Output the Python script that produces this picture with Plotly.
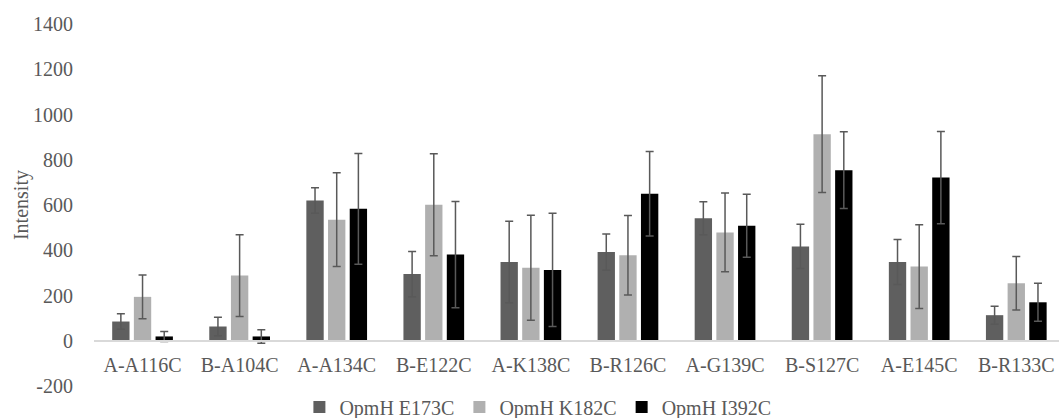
import plotly.graph_objects as go

categories = ["A-A116C", "B-A104C", "A-A134C", "B-E122C", "A-K138C",
              "B-R126C", "A-G139C", "B-S127C", "A-E145C", "B-R133C"]

series_names = ["OpmH E173C", "OpmH K182C", "OpmH I392C"]

e173c_values = [85, 63, 620, 295, 348, 392, 541, 417, 348, 113]
e173c_errors = [34, 41, 56, 100, 180, 80, 73, 98, 99, 40]

k182c_values = [194, 288, 535, 601, 323, 378, 479, 913, 328, 254]
k182c_errors = [97, 181, 207, 225, 232, 176, 174, 258, 185, 118]

i392c_values = [19, 19, 583, 381, 313, 650, 508, 754, 721, 170]
i392c_errors = [22, 30, 245, 235, 250, 187, 139, 170, 204, 84]

y_ticks = [-200, 0, 200, 400, 600, 800, 1000, 1200, 1400]
y_tick_labels = ["-200", "0", "200", "400", "600", "800", "1000", "1200", "1400"]
y_title = "Intensity"

colors = ["#5f5f5f", "#b0b0b0", "#000000"]
err_color = "#595959"
font_family = "Liberation Serif, serif"
text_color = "#595959"

fig = go.Figure()
for name, vals, errs, col in zip(series_names,
                                 [e173c_values, k182c_values, i392c_values],
                                 [e173c_errors, k182c_errors, i392c_errors],
                                 colors):
    fig.add_trace(go.Bar(
        x=categories, y=vals, name=name,
        marker=dict(color=col, line=dict(width=0)),
        error_y=dict(type="data", array=errs, visible=True,
                     color=err_color, thickness=1.5, width=4),
    ))

fig.add_annotation(
    text=y_title, xref="paper", yref="paper", x=-0.0756, y=0.5,
    xanchor="center", yanchor="middle", textangle=-90, showarrow=False,
    font=dict(family=font_family, size=20, color=text_color),
)

fig.update_layout(
    width=1059, height=418,
    margin=dict(l=94, r=0, t=24, b=32, autoexpand=False),
    paper_bgcolor="white", plot_bgcolor="white",
    barmode="group", bargap=0.33, bargroupgap=0.2,
    font=dict(family=font_family, size=20, color=text_color),
    showlegend=True,
    legend=dict(orientation="h", x=0.46, xanchor="center", y=-0.058,
                yanchor="middle", font=dict(family=font_family, size=20, color=text_color),
                itemwidth=30, tracegroupgap=0),
    xaxis=dict(
        type="category", range=[-0.5, 9.44], automargin=False,
        anchor="free", position=0.125,
        showline=True, linecolor="#d9d9d9", linewidth=1.5,
        showgrid=False, zeroline=False,
        ticks="outside", ticklen=6, tickcolor="rgba(0,0,0,0)",
        tickfont=dict(family=font_family, size=20, color=text_color),
    ),
    yaxis=dict(
        range=[-200, 1400], tickvals=y_ticks, ticktext=y_tick_labels, automargin=False,
        showgrid=False, zeroline=False, showline=False,
        ticks="outside", ticklen=16, tickcolor="rgba(0,0,0,0)",
        tickfont=dict(family=font_family, size=20, color=text_color),
    ),
)

fig.write_html(
    "out.html",
    config={"displayModeBar": False},
    post_script="document.body.style.margin='0';document.body.style.overflow='hidden';",
)
